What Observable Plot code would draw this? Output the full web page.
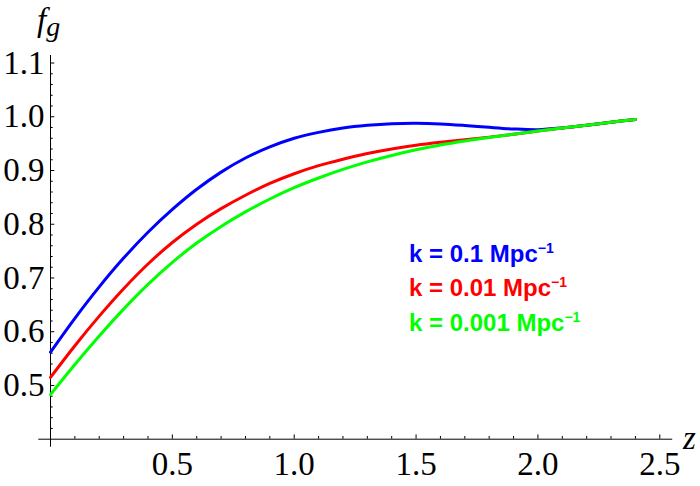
<!DOCTYPE html>
<html>
<head>
<meta charset="utf-8">
<script src="https://cdn.jsdelivr.net/npm/d3@7"></script>
<script src="https://cdn.jsdelivr.net/npm/@observablehq/plot@0.6"></script>
<style>
  html, body { margin: 0; padding: 0; background: white; }
  #chart { width: 700px; height: 486px; }
</style>
</head>
<body>
<div id="chart"></div>
<script>
// ---- data ----
const z = [0, 0.1, 0.2, 0.3, 0.4, 0.5, 0.6, 0.7, 0.8, 0.9, 1.0, 1.1, 1.2,
           1.3, 1.4, 1.5, 1.6, 1.7, 1.8, 1.9, 2.0, 2.1, 2.2, 2.3, 2.4];
const fK01 = [0.562, 0.625, 0.6835, 0.737, 0.785, 0.8275, 0.865, 0.897, 0.9232, 0.9439, 0.960, 0.971, 0.979,
              0.984, 0.987, 0.9878, 0.9866, 0.9838, 0.9803, 0.9773, 0.9760, 0.9792, 0.9844, 0.9898, 0.995];
const fK001 = [0.515, 0.574, 0.629, 0.680, 0.726, 0.766, 0.800, 0.829, 0.854, 0.876, 0.894, 0.909, 0.921,
               0.9315, 0.940, 0.947, 0.9525, 0.9572, 0.9621, 0.9675, 0.9733, 0.9789, 0.9844, 0.9898, 0.995];
const fK0001 = [0.483, 0.539, 0.592, 0.642, 0.688, 0.729, 0.765, 0.796, 0.823, 0.847, 0.868, 0.886, 0.902,
                0.916, 0.928, 0.9385, 0.9475, 0.955, 0.9615, 0.9675, 0.9733, 0.9789, 0.9844, 0.9898, 0.995];
const seriesNames = ["k = 0.1 Mpc", "k = 0.01 Mpc", "k = 0.001 Mpc"];
const seriesColors = ["#0000ff", "#ff0000", "#00ff00"];
const xMajor = [0.5, 1.0, 1.5, 2.0, 2.5];
const xMinor = [0.1, 0.2, 0.3, 0.4, 0.6, 0.7, 0.8, 0.9, 1.1, 1.2, 1.3, 1.4, 1.6, 1.7, 1.8, 1.9, 2.1, 2.2, 2.3, 2.4];
const yMajor = [0.5, 0.6, 0.7, 0.8, 0.9, 1.0, 1.1];
const yMinor = [0.42, 0.44, 0.46, 0.48, 0.52, 0.54, 0.56, 0.58, 0.62, 0.64, 0.66, 0.68, 0.72, 0.74, 0.76, 0.78,
                0.82, 0.84, 0.86, 0.88, 0.92, 0.94, 0.96, 0.98, 1.02, 1.04, 1.06, 1.08];

const allSeries = [fK01, fK001, fK0001];
const table = allSeries.flatMap((vals, i) => z.map((zz, j) => ({z: zz, f: vals[j], s: seriesNames[i]})));

// ---- layout ----
const W = 700, H = 486;
const mT = 55, mB = 47.3, mL = 50, mR = 27.8;
const frameW = W - mL - mR, frameH = H - mT - mB;
const serif = "'Liberation Serif', 'Times New Roman', Times, serif";
const sans = "'Liberation Sans', Arial, Helvetica, sans-serif";

const plot = Plot.plot({
  width: W, height: H,
  marginTop: mT, marginBottom: mB, marginLeft: mL, marginRight: mR,
  x: {domain: [0, 2.553]},
  y: {domain: [0.4, 1.114]},
  style: `font-family: ${serif}; font-size: 33px; color: black; background: white;`,
  marks: [
    Plot.ruleY([0.4], {insetLeft: -11.7, stroke: "black"}),
    Plot.ruleX([0], {insetBottom: -8, stroke: "black"}),
    Plot.ruleX(xMajor, {insetTop: frameH - 4.3, stroke: "black"}),
    Plot.ruleX(xMinor, {insetTop: frameH - 2.7, stroke: "black"}),
    Plot.ruleY(yMajor, {insetRight: frameW - 4.3, stroke: "black"}),
    Plot.ruleY(yMinor, {insetRight: frameW - 2.7, stroke: "black"}),
    Plot.axisX({ticks: xMajor, tickSize: 0, tickPadding: 12, tickFormat: d3.format(".1f"), label: null, fontSize: 33}),
    Plot.axisY({ticks: yMajor, tickSize: 0, tickPadding: 6, tickFormat: d3.format(".1f"), label: null, fontSize: 33}),
    ...seriesNames.map((name, i) =>
      Plot.line(table.filter(d => d.s === name), {x: "z", y: "f", stroke: seriesColors[i], strokeWidth: 3, curve: "catmull-rom"})
    )
  ]
});

document.getElementById("chart").appendChild(plot);

// ---- axis labels and legend ----
const svg = d3.select(plot);
const fl = svg.append("text")
  .attr("x", 37).attr("y", 31).attr("text-anchor", "start")
  .style("font-family", serif).style("font-style", "italic").style("font-size", "33px")
  .text("f");
fl.append("tspan").style("font-size", "28px").attr("dy", 5).text("g");

svg.append("text")
  .attr("x", 683).attr("y", 449).attr("text-anchor", "start")
  .style("font-family", serif).style("font-style", "italic").style("font-size", "33px")
  .text("z");

const legendBaselines = [262, 296, 331];
seriesNames.forEach((name, i) => {
  const t = svg.append("text")
    .attr("x", 409).attr("y", legendBaselines[i]).attr("text-anchor", "start")
    .style("font-family", sans).style("font-weight", "bold").style("font-size", "24px")
    .attr("fill", seriesColors[i])
    .text(name);
  t.append("tspan").style("font-size", "14px").attr("dy", -9).text("\u22121");
});
</script>
</body>
</html>
